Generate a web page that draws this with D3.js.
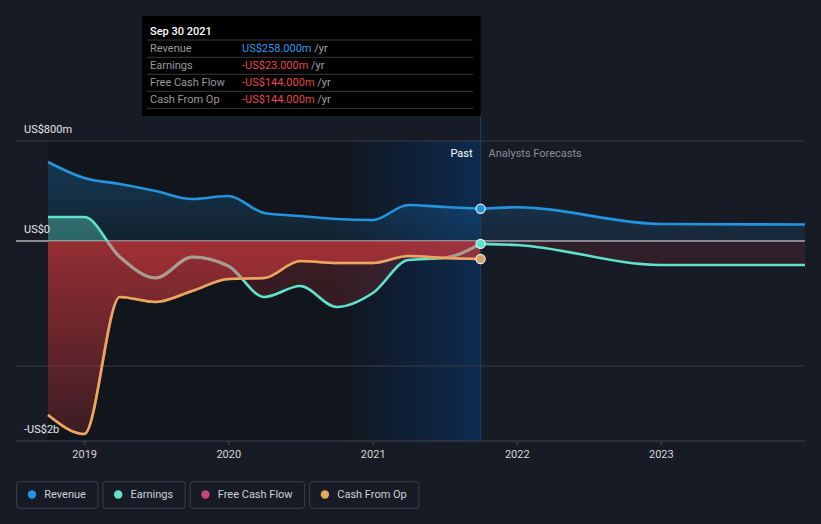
<!DOCTYPE html>
<html><head><meta charset="utf-8">
<script src="https://cdn.jsdelivr.net/npm/d3@7"></script>
<style>
html,body{margin:0;padding:0;background:#161b26;}
svg{display:block;font-family:Roboto,"Noto Sans",sans-serif;}
</style></head>
<body><svg id="c" width="821" height="524"></svg>
<script>
// ---- data (US$ millions) ----
const pastDates = ["2018-09-30","2018-12-31","2019-03-31","2019-06-30","2019-09-30","2019-12-31","2020-03-31","2020-06-30","2020-09-30","2020-12-31","2021-03-31","2021-06-30","2021-09-30"];
const revenue   = [632, 504, 456, 400, 336, 360, 224, 200, 176, 168, 288, 272, 258];
const earnings  = [192, 192, -128, -296, -128, -200, -448, -360, -528, -416, -152, -136, -23];
const freeCashFlow = [-1392, -1544, -448, -488, -400, -304, -296, -160, -176, -176, -120, -136, -144];
const cashFromOp   = [-1392, -1544, -448, -488, -400, -304, -296, -160, -176, -176, -120, -136, -144];
const forecastDates = ["2021-09-30","2021-12-31","2022-12-31","2023-12-31"];
const revenueForecast  = [258, 270, 136, 132];
const earningsForecast = [-23, -32, -192, -192];
const xTickYears = [2019, 2020, 2021, 2022, 2023];
const yLabels = [{v:800, t:"US$800m"}, {v:0, t:"US$0"}, {v:-1600, t:"-US$2b"}];
const gridValues = [800, -1000];
const legendItems = [{k:"Revenue", c:"#2394df"}, {k:"Earnings", c:"#5fe3cb"}, {k:"Free Cash Flow", c:"#c8437f"}, {k:"Cash From Op", c:"#e8a95a"}];
const tooltipTitle = "Sep 30 2021";
const tooltipRows = [
  {k:"Revenue", v:"US$258.000m", c:"#2d9bea"},
  {k:"Earnings", v:"-US$23.000m", c:"#e5484d"},
  {k:"Free Cash Flow", v:"-US$144.000m", c:"#e5484d"},
  {k:"Cash From Op", v:"-US$144.000m", c:"#e5484d"}
];

(function(){
const parse = d3.timeParse("%Y-%m-%d");
const svg = d3.select("#c");
const W = 821, H = 524;
const pL = 48, pR = 805, pT = 141, pB = 441, axisLeft = 16;

const x = d3.scaleTime().domain([parse("2018-09-30"), parse("2023-12-31")]).range([pL, pR]);
const y = d3.scaleLinear().domain([-1600, 800]).range([pB, pT]);
const nowX = x(parse("2021-09-30"));
const hlX = x(parse("2020-09-30"));

const past = pastDates.map((d,i)=>({d:parse(d), rev:revenue[i], earn:earnings[i], fcf:freeCashFlow[i], cfo:cashFromOp[i]}));
const fc = forecastDates.map((d,i)=>({d:parse(d), rev:revenueForecast[i], earn:earningsForecast[i]}));

const defs = svg.append("defs");
function vgrad(id, stops){
  const g = defs.append("linearGradient").attr("id", id).attr("gradientUnits","userSpaceOnUse")
    .attr("x1",0).attr("x2",0).attr("y1",pT).attr("y2",pB);
  stops.forEach(s=>g.append("stop").attr("offset",s[0]).attr("stop-color",s[1]).attr("stop-opacity",s[2]));
}
const z = (y(0)-pT)/(pB-pT);
vgrad("gRev", [[0,"#2394df",0.32],[z,"#2394df",0.1]]);
vgrad("gEarn", [[0,"#5fe3cb",0.4],[z,"#5fe3cb",0.35],[z,"#c0363a",0.25],[1,"#c0363a",0.08]]);
vgrad("gEarnF", [[0,"#5fe3cb",0.2],[z,"#5fe3cb",0.2],[z,"#c0363a",0.16],[1,"#c0363a",0.05]]);
vgrad("gFcf", [[0,"#c0363a",0.75],[z,"#c0363a",0.75],[1,"#c0363a",0.22]]);
const hg = defs.append("linearGradient").attr("id","gHl").attr("gradientUnits","userSpaceOnUse")
  .attr("x1",hlX).attr("x2",nowX).attr("y1",0).attr("y2",0);
hg.append("stop").attr("offset",0).attr("stop-color","#0a3c78").attr("stop-opacity",0.0);
hg.append("stop").attr("offset",1).attr("stop-color","#0a3c78").attr("stop-opacity",0.55);

// background
svg.append("rect").attr("width",W).attr("height",H).attr("fill","#161b26");
svg.append("rect").attr("x",pL).attr("y",pT).attr("width",nowX-pL).attr("height",pB-pT).attr("fill","#11151c");
svg.append("rect").attr("x",hlX).attr("y",pT).attr("width",nowX-hlX).attr("height",pB-pT).attr("fill","url(#gHl)");

// grid
svg.selectAll(".grid").data(gridValues).enter().append("line")
  .attr("x1",axisLeft).attr("x2",pR).attr("y1",d=>y(d)).attr("y2",d=>y(d))
  .attr("stroke","#363c48").attr("stroke-width",1);
svg.append("line").attr("x1",axisLeft).attr("x2",pR).attr("y1",pB).attr("y2",pB).attr("stroke","#3f4552");
svg.selectAll(".tick").data(xTickYears).enter().append("line")
  .attr("x1",d=>x(new Date(d,0,1))).attr("x2",d=>x(new Date(d,0,1))).attr("y1",pB).attr("y2",pB+4)
  .attr("stroke","#4a505c");
svg.selectAll(".xl").data(xTickYears).enter().append("text")
  .attr("x",d=>x(new Date(d,0,1))).attr("y",pB+17).attr("text-anchor","middle")
  .attr("fill","#d6d6d6").attr("font-size",11).text(d=>d);
// zero line
svg.append("line").attr("x1",axisLeft).attr("x2",pR).attr("y1",y(0)).attr("y2",y(0)).attr("stroke","#ffffff").attr("stroke-width",1.2);

const curve = d3.curveMonotoneX;
const area = key => d3.area().x(d=>x(d.d)).y0(y(0)).y1(d=>y(d[key])).curve(curve);
const line = key => d3.line().x(d=>x(d.d)).y(d=>y(d[key])).curve(curve);

// areas
svg.append("path").datum(past).attr("d",area("rev")).attr("fill","url(#gRev)");
svg.append("path").datum(fc).attr("d",area("rev")).attr("fill","url(#gRev)");
svg.append("path").datum(past).attr("d",area("earn")).attr("fill","url(#gEarn)");
svg.append("path").datum(fc).attr("d",area("earn")).attr("fill","url(#gEarnF)");
svg.append("path").datum(past).attr("d",area("fcf")).attr("fill","url(#gFcf)");

// clip for earnings line inside fcf area
defs.append("clipPath").attr("id","clipF").append("path").datum(past).attr("d",area("fcf"));

// now line
svg.append("line").attr("x1",nowX).attr("x2",nowX).attr("y1",116).attr("y2",pB).attr("stroke","#1b3a5e").attr("stroke-width",1.2);

// lines
const lw = 2.6;
svg.append("path").datum(past).attr("d",line("rev")).attr("fill","none").attr("stroke","#2394df").attr("stroke-width",lw);
svg.append("path").datum(fc).attr("d",line("rev")).attr("fill","none").attr("stroke","#2394df").attr("stroke-width",lw);
svg.append("path").datum(past).attr("d",line("earn")).attr("fill","none").attr("stroke","#5fe3cb").attr("stroke-width",lw);
svg.append("path").datum(past).attr("d",line("earn")).attr("fill","none").attr("stroke","#ab9a90").attr("stroke-width",lw+0.4).attr("clip-path","url(#clipF)");
svg.append("path").datum(fc).attr("d",line("earn")).attr("fill","none").attr("stroke","#5fe3cb").attr("stroke-width",lw);
svg.append("path").datum(past).attr("d",line("fcf")).attr("fill","none").attr("stroke","#c8437f").attr("stroke-width",lw);
svg.append("path").datum(past).attr("d",line("cfo")).attr("fill","none").attr("stroke","#e8a95a").attr("stroke-width",lw);

// end dots
const last = past[past.length-1];
[["rev","#2394df"],["earn","#5fe3cb"],["cfo","#d9a060"]].forEach(([k,c])=>{
  svg.append("circle").attr("cx",x(last.d)).attr("cy",y(last[k])).attr("r",4.6)
    .attr("fill",c).attr("stroke","#e8eef5").attr("stroke-width",1.2);
});

// y labels
svg.selectAll(".yl").data(yLabels).enter().append("text")
  .attr("x",24).attr("y",d=>y(d.v)-8.3).attr("fill","#e6e6e6").attr("font-size",11).text(d=>d.t);

// past / forecast labels
svg.append("text").attr("x",nowX-8).attr("y",157).attr("text-anchor","end").attr("fill","#ffffff").attr("font-size",11).text("Past");
svg.append("text").attr("x",nowX+8).attr("y",157).attr("fill","#8b909a").attr("font-size",11).text("Analysts Forecasts");

// tooltip
const tt = svg.append("g");
tt.append("rect").attr("x",142).attr("y",16).attr("width",nowX-142).attr("height",100).attr("fill","#000000");
tt.append("text").attr("x",150).attr("y",35).attr("fill","#ffffff").attr("font-size",11).attr("font-weight",500).text(tooltipTitle);
[40,57.3,74.3,91.3,108.3].forEach(yy=>tt.append("line").attr("x1",147).attr("x2",473).attr("y1",yy).attr("y2",yy).attr("stroke","#3a3a3a"));
tooltipRows.forEach((r,i)=>{
  const by = 52 + i*17;
  tt.append("text").attr("x",150).attr("y",by).attr("fill","#9a9a9a").attr("font-size",11).text(r.k);
  const t = tt.append("text").attr("x",242).attr("y",by).attr("font-size",11);
  t.append("tspan").attr("fill",r.c).text(r.v);
  t.append("tspan").attr("fill","#a0a0a0").text(" /yr");
});

// legend
let lx = 16.7;
legendItems.forEach(it=>{
  const g = svg.append("g");
  const txt = g.append("text").attr("x",lx+27.6).attr("y",498).attr("fill","#cfd2d6").attr("font-size",11).text(it.k);
  const w = txt.node().getComputedTextLength();
  const bw = 27.6 + w + 12;
  g.insert("rect","text").attr("x",lx).attr("y",481.7).attr("width",bw).attr("height",26.6).attr("rx",3)
    .attr("fill","none").attr("stroke","#3b414d").attr("stroke-width",1);
  g.append("circle").attr("cx",lx+15.3).attr("cy",494.5).attr("r",4.2).attr("fill",it.c);
  lx += bw + 5;
});
})();
</script></body></html>
